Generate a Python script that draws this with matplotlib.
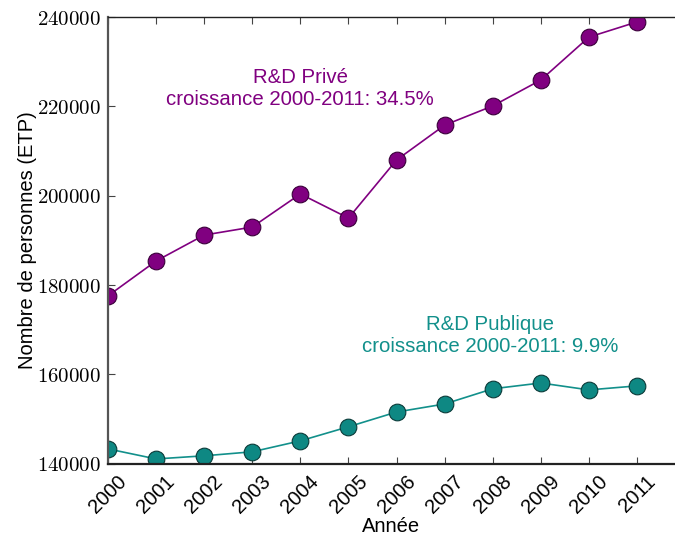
import numpy as np
import matplotlib
matplotlib.use('Agg')
import matplotlib.pyplot as plt
from matplotlib.ticker import FuncFormatter

# Effectifs R&D (ETP), 2000-2011
years = [2000, 2001, 2002, 2003, 2004, 2005, 2006, 2007, 2008, 2009, 2010, 2011]
prive = [177600, 185400, 191200, 193000, 200400, 195000,
         208000, 215800, 220100, 225900, 235500, 238900]
publique = [143350, 141100, 141800, 142700, 145150, 148300,
            151600, 153400, 156800, 158100, 156550, 157450]
yticks = [140000, 160000, 180000, 200000, 220000, 240000]

label_prive = 'R&D Privé\ncroissance 2000-2011: 34.5%'
label_publique = 'R&D Publique\ncroissance 2000-2011: 9.9%'

purple = '#800080'
teal = '#12908b'

plt.rcParams['font.family'] = ['Liberation Sans', 'DejaVu Sans']
plt.rcParams['mathtext.fontset'] = 'cm'

fig = plt.figure(figsize=(6.75, 5.4), dpi=100)
ax = fig.add_axes([0.16, 0.141, 0.84, 0.8275])

ax.plot(years, prive, '-o', color=purple, lw=1.2, ms=12,
        mfc=purple, mec='#3a003a', mew=0.8)
ax.plot(years, publique, '-o', color=teal, lw=1.2, ms=12,
        mfc='#0e8883', mec='#0b3b39', mew=0.8)

ax.text(2004.0, 224000, label_prive, color=purple, fontsize=14.7,
        ha='center', va='center', linespacing=1.2)
ax.text(2007.95, 168800, label_publique, color=teal, fontsize=14.7,
        ha='center', va='center', linespacing=1.2)

ax.set_xlim(2000, 2011.79)
ax.set_ylim(140000, 240000)
ax.set_xticks(years)
ax.set_xticklabels([str(y) for y in years], rotation=45, ha='center',
                   fontsize=14.5)
ax.set_yticks(yticks)
ax.yaxis.set_major_formatter(FuncFormatter(lambda v, p: r'$%d$' % v))
for lab in ax.get_yticklabels():
    lab.set_fontsize(15)

ax.tick_params(axis='x', direction='in', top=True, length=5, width=0.8,
               color='#444444', pad=6)
ax.tick_params(axis='y', direction='in', length=5, width=0.8,
               color='#444444', pad=5)

ax.spines['right'].set_visible(False)
ax.spines['left'].set_linewidth(1.6)
ax.spines['left'].set_color('#555555')
ax.spines['bottom'].set_linewidth(1.6)
ax.spines['bottom'].set_color('#222222')
ax.spines['top'].set_linewidth(1.0)
ax.spines['top'].set_color('#222222')

ax.set_xlabel('Année', fontsize=14.5, labelpad=0)
ax.set_ylabel('Nombre de personnes (ETP)', fontsize=14.5, labelpad=0)

fig.savefig('out.png', dpi=100)
